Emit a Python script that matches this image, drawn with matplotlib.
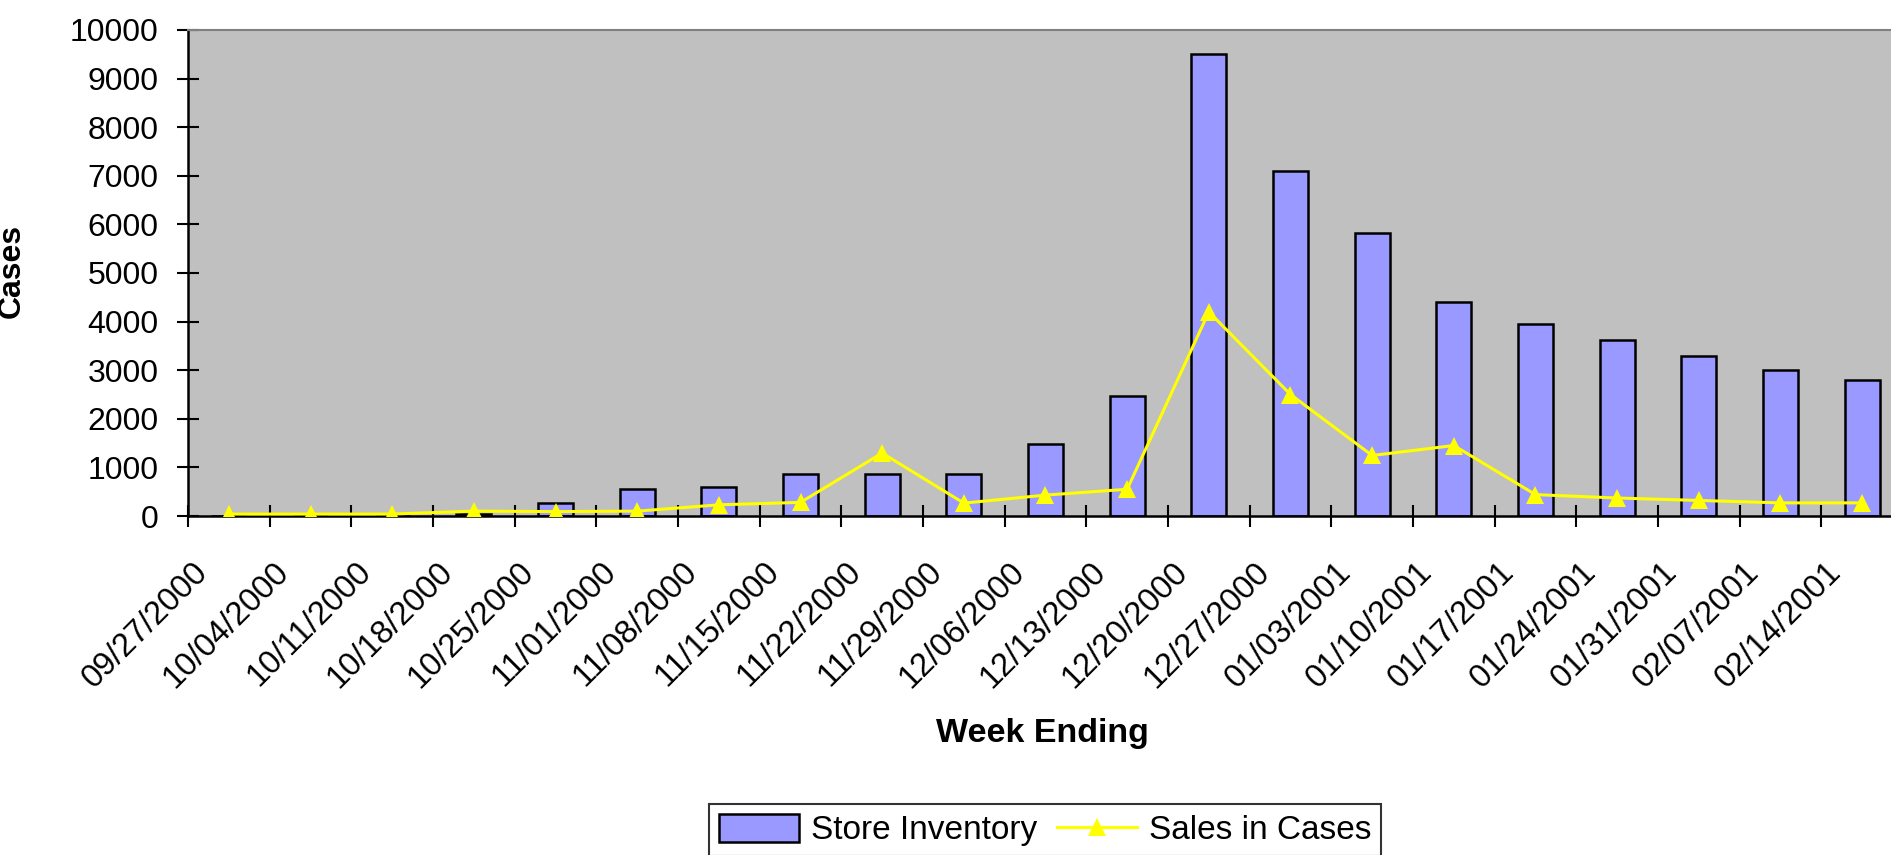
import numpy as np
import matplotlib.pyplot as plt
from matplotlib.transforms import ScaledTranslation

weeks = ['09/27/2000', '10/04/2000', '10/11/2000', '10/18/2000', '10/25/2000',
         '11/01/2000', '11/08/2000', '11/15/2000', '11/22/2000', '11/29/2000',
         '12/06/2000', '12/13/2000', '12/20/2000', '12/27/2000', '01/03/2001',
         '01/10/2001', '01/17/2001', '01/24/2001', '01/31/2001', '02/07/2001',
         '02/14/2001']
inventory = [0, 0, 0, 40, 265, 550, 605, 870, 870, 870, 1485, 2465, 9500,
             7090, 5820, 4395, 3955, 3620, 3295, 3010, 2800]
sales = [40, 40, 40, 100, 90, 100, 230, 280, 1295, 265, 430, 550, 4200,
         2500, 1245, 1450, 440, 370, 320, 270, 270]

plt.rcParams['font.family'] = ['Liberation Sans', 'DejaVu Sans']

fig = plt.figure(figsize=(18.91, 8.55), dpi=100)
ax = fig.add_axes([188 / 1891, 1 - 516 / 855, (1903 - 188) / 1891, (516 - 30) / 855])
ax.set_facecolor('#C0C0C0')

x = np.arange(len(weeks))
bars = ax.bar(x, inventory, width=0.43, color='#9999FF', edgecolor='black',
              linewidth=1.8, label='Store Inventory', zorder=2)
line, = ax.plot(x, sales, color='#FFFF00', linewidth=2.2, marker='^',
                markersize=13.5, markeredgewidth=0, label='Sales in Cases',
                zorder=3)

ax.set_xlim(-0.5, len(weeks) - 0.5)
ax.set_ylim(0, 10000)
ax.set_yticks(np.arange(0, 10001, 1000))
ax.tick_params(axis='y', direction='inout', length=16, width=1.5,
               labelsize=23, pad=13)

ax.set_xticks(x)
ax.set_xticklabels(weeks, rotation=45, ha='right', va='top', fontsize=23.5)
ax.set_xticks(np.arange(-0.5, len(weeks), 1), minor=True)
ax.tick_params(axis='x', which='major', length=0, pad=29)
ax.tick_params(axis='x', which='minor', direction='inout', length=16, width=1.5)
shift = ScaledTranslation(-15 / 100, 0, fig.dpi_scale_trans)
for lab in ax.get_xticklabels():
    lab.set_transform(lab.get_transform() + shift)

for s in ['left', 'bottom']:
    ax.spines[s].set_color('black')
    ax.spines[s].set_linewidth(1.8)
ax.spines['top'].set_color('#808080')
ax.spines['top'].set_linewidth(1.5)
ax.spines['right'].set_visible(False)

ax.set_ylabel('Cases', fontsize=23, fontweight='bold')
ax.yaxis.set_label_coords(27 / 1891, 1 - 271 / 855, transform=fig.transFigure)
fig.text(1042 / 1891, 1 - 733 / 855, 'Week Ending', fontsize=24.5,
         fontweight='bold', ha='center', va='center')

leg = fig.legend(handles=[bars, line], loc='upper center',
                 bbox_to_anchor=(1045 / 1891, 1 - 804 / 855),
                 ncol=2, fontsize=24, frameon=True, fancybox=False,
                 edgecolor='black', handlelength=2.4, handleheight=0.9,
                 handletextpad=0.35, columnspacing=0.6, borderpad=0.3,
                 borderaxespad=0)
leg.get_frame().set_linewidth(1.5)

fig.savefig('out.png', dpi=100, facecolor='white')
